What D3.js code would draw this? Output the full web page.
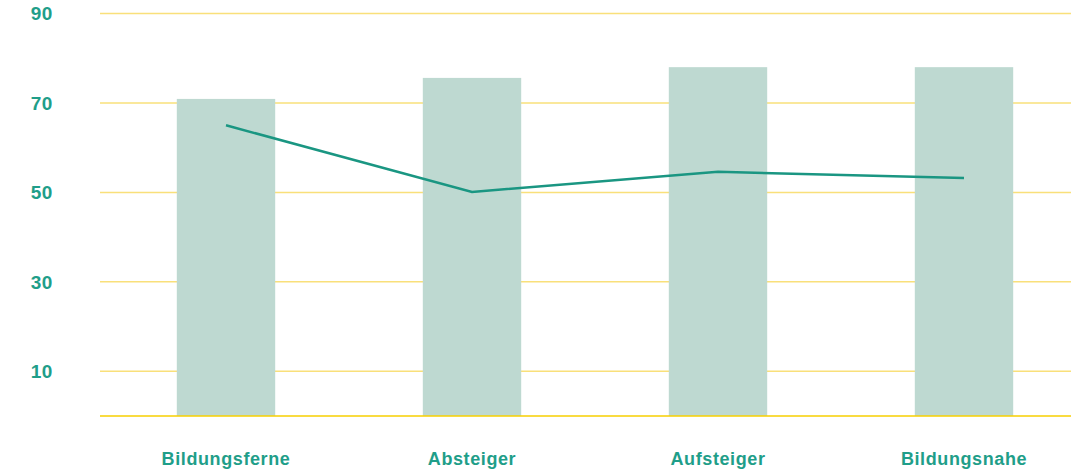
<!DOCTYPE html>
<html><head><meta charset="utf-8">
<script src="https://cdn.jsdelivr.net/npm/d3@7"></script>
<style>body{margin:0;background:#fff}svg{display:block}text{font-family:"Liberation Sans",Arial,sans-serif;font-weight:bold;fill:#1f9e89}</style>
</head><body><svg id="c" width="1071" height="470"></svg>
<script>
const categories = ["Bildungsferne","Absteiger","Aufsteiger","Bildungsnahe"];
const barValues = [70.9, 75.6, 78.0, 78.0];
const lineValues = [65.0, 50.1, 54.6, 53.2];
const yTicks = [10, 30, 50, 70, 90];

const svg = d3.select("#c");
const x = d3.scaleBand().domain(categories).range([103, 1087]).paddingInner(0.6).paddingOuter(0.3);
const y = d3.scaleLinear().domain([0, 90]).range([416, 13.5]);

svg.append("g").selectAll("line").data(yTicks).join("line")
  .attr("x1", 100).attr("x2", 1071).attr("y1", d => y(d)).attr("y2", d => y(d))
  .attr("stroke", "#f9e07a").attr("stroke-width", 1.5);

svg.append("g").selectAll("rect").data(categories).join("rect")
  .attr("x", d => x(d)).attr("width", x.bandwidth())
  .attr("y", (d, i) => y(barValues[i])).attr("height", (d, i) => y(0) - y(barValues[i]))
  .attr("fill", "#bed9d1");

svg.append("line").attr("x1", 100).attr("x2", 1071).attr("y1", y(0)).attr("y2", y(0))
  .attr("stroke", "#f7cf00").attr("stroke-width", 1.6);

const line = d3.line().x((d, i) => x(categories[i]) + x.bandwidth() / 2).y(d => y(d));
svg.append("path").datum(lineValues).attr("d", line)
  .attr("fill", "none").attr("stroke", "#1a9682").attr("stroke-width", 2.5);

svg.append("g").selectAll("text").data(yTicks).join("text")
  .attr("x", 53).attr("y", d => y(d)).attr("dy", "0.36em").attr("text-anchor", "end")
  .style("font-size", "19px").style("letter-spacing", "0.6px").text(d => d);

svg.append("g").selectAll("text").data(categories).join("text")
  .attr("x", d => x(d) + x.bandwidth() / 2).attr("y", 465).attr("text-anchor", "middle")
  .style("font-size", "18px").style("letter-spacing", "0.6px").text(d => d);
</script></body></html>
